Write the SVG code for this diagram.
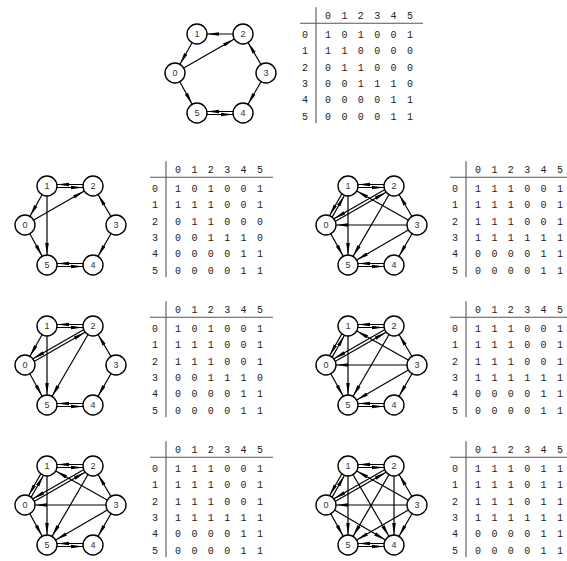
<svg xmlns="http://www.w3.org/2000/svg" width="567" height="561" viewBox="0 0 567 561">
<style>
.n circle{fill:#fff;stroke:#000;stroke-width:1.4}
.n text{font-family:"Liberation Sans",sans-serif;font-size:9px;fill:#333;text-anchor:middle}
.e line{stroke:#000;stroke-width:1.2;marker-end:url(#ah)}
.m text{font-family:"Liberation Mono",monospace;font-size:10px;fill:#222;text-anchor:middle}
.m line{stroke:#555;stroke-width:1.1}
</style>
<defs>
<marker id="ah" markerUnits="userSpaceOnUse" markerWidth="12" markerHeight="5" refX="22" refY="2.5" orient="auto"><path d="M0,0.7 L12,2.5 L0,4.3 Z" fill="#000"/></marker>
</defs>
<rect width="567" height="561" fill="#fff"/>

<!-- Graph 0 (top) -->
<g id="graph0" transform="translate(175,34)">
<g id="edges0" class="e">
<line x1="0" y1="39" x2="68" y2="0"/>
<line x1="0" y1="39" x2="22" y2="79"/>
<line x1="22" y1="0" x2="0" y2="39"/>
<line x1="68" y1="0" x2="22" y2="0"/>
<line x1="91" y1="39" x2="68" y2="0"/>
<line x1="91" y1="39" x2="68" y2="79"/>
<line x1="68" y1="77.5" x2="22" y2="77.5"/>
<line x1="22" y1="80.5" x2="68" y2="80.5"/>
</g>
<g id="g0n0" class="n"><circle cx="0" cy="39" r="10"/><text x="0" y="42.2">0</text></g>
<g id="g0n1" class="n"><circle cx="22" cy="0" r="10"/><text x="22" y="3.2">1</text></g>
<g id="g0n2" class="n"><circle cx="68" cy="0" r="10"/><text x="68" y="3.2">2</text></g>
<g id="g0n3" class="n"><circle cx="91" cy="39" r="10"/><text x="91" y="42.2">3</text></g>
<g id="g0n4" class="n"><circle cx="68" cy="79" r="10"/><text x="68" y="82.2">4</text></g>
<g id="g0n5" class="n"><circle cx="22" cy="79" r="10"/><text x="22" y="82.2">5</text></g>
</g>

<!-- Graph 1 (left row 1) -->
<g id="graph1" transform="translate(25,186)">
<g id="edges1" class="e">
<line x1="0" y1="39" x2="68" y2="0"/>
<line x1="0" y1="39" x2="22" y2="79"/>
<line x1="22" y1="0" x2="0" y2="39"/>
<line x1="22" y1="1.5" x2="68" y2="1.5"/>
<line x1="68" y1="-1.5" x2="22" y2="-1.5"/>
<line x1="22" y1="0" x2="22" y2="79"/>
<line x1="91" y1="39" x2="68" y2="0"/>
<line x1="91" y1="39" x2="68" y2="79"/>
<line x1="68" y1="77.5" x2="22" y2="77.5"/>
<line x1="22" y1="80.5" x2="68" y2="80.5"/>
</g>
<g id="g1n0" class="n"><circle cx="0" cy="39" r="10"/><text x="0" y="42.2">0</text></g>
<g id="g1n1" class="n"><circle cx="22" cy="0" r="10"/><text x="22" y="3.2">1</text></g>
<g id="g1n2" class="n"><circle cx="68" cy="0" r="10"/><text x="68" y="3.2">2</text></g>
<g id="g1n3" class="n"><circle cx="91" cy="39" r="10"/><text x="91" y="42.2">3</text></g>
<g id="g1n4" class="n"><circle cx="68" cy="79" r="10"/><text x="68" y="82.2">4</text></g>
<g id="g1n5" class="n"><circle cx="22" cy="79" r="10"/><text x="22" y="82.2">5</text></g>
</g>

<!-- Graph 2 (left row 2) -->
<g id="graph2" transform="translate(25,326)">
<g id="edges2" class="e">
<line x1="0.75" y1="40.3" x2="68.75" y2="1.3"/>
<line x1="67.25" y1="-1.3" x2="-0.75" y2="37.7"/>
<line x1="0" y1="39" x2="22" y2="79"/>
<line x1="22" y1="0" x2="0" y2="39"/>
<line x1="22" y1="1.5" x2="68" y2="1.5"/>
<line x1="68" y1="-1.5" x2="22" y2="-1.5"/>
<line x1="22" y1="0" x2="22" y2="79"/>
<line x1="68" y1="0" x2="22" y2="79"/>
<line x1="91" y1="39" x2="68" y2="0"/>
<line x1="91" y1="39" x2="68" y2="79"/>
<line x1="68" y1="77.5" x2="22" y2="77.5"/>
<line x1="22" y1="80.5" x2="68" y2="80.5"/>
</g>
<g id="g2n0" class="n"><circle cx="0" cy="39" r="10"/><text x="0" y="42.2">0</text></g>
<g id="g2n1" class="n"><circle cx="22" cy="0" r="10"/><text x="22" y="3.2">1</text></g>
<g id="g2n2" class="n"><circle cx="68" cy="0" r="10"/><text x="68" y="3.2">2</text></g>
<g id="g2n3" class="n"><circle cx="91" cy="39" r="10"/><text x="91" y="42.2">3</text></g>
<g id="g2n4" class="n"><circle cx="68" cy="79" r="10"/><text x="68" y="82.2">4</text></g>
<g id="g2n5" class="n"><circle cx="22" cy="79" r="10"/><text x="22" y="82.2">5</text></g>
</g>

<!-- Graph 3 (left row 3) -->
<g id="graph3" transform="translate(25,466)">
<g id="edges3" class="e">
<line x1="1.31" y1="39.74" x2="23.31" y2="0.74"/>
<line x1="20.69" y1="-0.74" x2="-1.31" y2="38.26"/>
<line x1="0.75" y1="40.3" x2="68.75" y2="1.3"/>
<line x1="67.25" y1="-1.3" x2="-0.75" y2="37.7"/>
<line x1="0" y1="39" x2="22" y2="79"/>
<line x1="22" y1="1.5" x2="68" y2="1.5"/>
<line x1="68" y1="-1.5" x2="22" y2="-1.5"/>
<line x1="22" y1="0" x2="22" y2="79"/>
<line x1="68" y1="0" x2="22" y2="79"/>
<line x1="91" y1="39" x2="0" y2="39"/>
<line x1="91" y1="39" x2="22" y2="0"/>
<line x1="91" y1="39" x2="68" y2="0"/>
<line x1="91" y1="39" x2="68" y2="79"/>
<line x1="91" y1="39" x2="22" y2="79"/>
<line x1="68" y1="77.5" x2="22" y2="77.5"/>
<line x1="22" y1="80.5" x2="68" y2="80.5"/>
</g>
<g id="g3n0" class="n"><circle cx="0" cy="39" r="10"/><text x="0" y="42.2">0</text></g>
<g id="g3n1" class="n"><circle cx="22" cy="0" r="10"/><text x="22" y="3.2">1</text></g>
<g id="g3n2" class="n"><circle cx="68" cy="0" r="10"/><text x="68" y="3.2">2</text></g>
<g id="g3n3" class="n"><circle cx="91" cy="39" r="10"/><text x="91" y="42.2">3</text></g>
<g id="g3n4" class="n"><circle cx="68" cy="79" r="10"/><text x="68" y="82.2">4</text></g>
<g id="g3n5" class="n"><circle cx="22" cy="79" r="10"/><text x="22" y="82.2">5</text></g>
</g>

<!-- Graph 4 (right row 1) -->
<g id="graph4" transform="translate(326,186)">
<g id="edges4" class="e">
<line x1="1.31" y1="39.74" x2="23.31" y2="0.74"/>
<line x1="20.69" y1="-0.74" x2="-1.31" y2="38.26"/>
<line x1="0.75" y1="40.3" x2="68.75" y2="1.3"/>
<line x1="67.25" y1="-1.3" x2="-0.75" y2="37.7"/>
<line x1="0" y1="39" x2="22" y2="79"/>
<line x1="22" y1="1.5" x2="68" y2="1.5"/>
<line x1="68" y1="-1.5" x2="22" y2="-1.5"/>
<line x1="22" y1="0" x2="22" y2="79"/>
<line x1="68" y1="0" x2="22" y2="79"/>
<line x1="91" y1="39" x2="0" y2="39"/>
<line x1="91" y1="39" x2="22" y2="0"/>
<line x1="91" y1="39" x2="68" y2="0"/>
<line x1="91" y1="39" x2="68" y2="79"/>
<line x1="91" y1="39" x2="22" y2="79"/>
<line x1="68" y1="77.5" x2="22" y2="77.5"/>
<line x1="22" y1="80.5" x2="68" y2="80.5"/>
</g>
<g id="g4n0" class="n"><circle cx="0" cy="39" r="10"/><text x="0" y="42.2">0</text></g>
<g id="g4n1" class="n"><circle cx="22" cy="0" r="10"/><text x="22" y="3.2">1</text></g>
<g id="g4n2" class="n"><circle cx="68" cy="0" r="10"/><text x="68" y="3.2">2</text></g>
<g id="g4n3" class="n"><circle cx="91" cy="39" r="10"/><text x="91" y="42.2">3</text></g>
<g id="g4n4" class="n"><circle cx="68" cy="79" r="10"/><text x="68" y="82.2">4</text></g>
<g id="g4n5" class="n"><circle cx="22" cy="79" r="10"/><text x="22" y="82.2">5</text></g>
</g>

<!-- Graph 5 (right row 2) -->
<g id="graph5" transform="translate(326,326)">
<g id="edges5" class="e">
<line x1="1.31" y1="39.74" x2="23.31" y2="0.74"/>
<line x1="20.69" y1="-0.74" x2="-1.31" y2="38.26"/>
<line x1="0.75" y1="40.3" x2="68.75" y2="1.3"/>
<line x1="67.25" y1="-1.3" x2="-0.75" y2="37.7"/>
<line x1="0" y1="39" x2="22" y2="79"/>
<line x1="22" y1="1.5" x2="68" y2="1.5"/>
<line x1="68" y1="-1.5" x2="22" y2="-1.5"/>
<line x1="22" y1="0" x2="22" y2="79"/>
<line x1="68" y1="0" x2="22" y2="79"/>
<line x1="91" y1="39" x2="0" y2="39"/>
<line x1="91" y1="39" x2="22" y2="0"/>
<line x1="91" y1="39" x2="68" y2="0"/>
<line x1="91" y1="39" x2="68" y2="79"/>
<line x1="91" y1="39" x2="22" y2="79"/>
<line x1="68" y1="77.5" x2="22" y2="77.5"/>
<line x1="22" y1="80.5" x2="68" y2="80.5"/>
</g>
<g id="g5n0" class="n"><circle cx="0" cy="39" r="10"/><text x="0" y="42.2">0</text></g>
<g id="g5n1" class="n"><circle cx="22" cy="0" r="10"/><text x="22" y="3.2">1</text></g>
<g id="g5n2" class="n"><circle cx="68" cy="0" r="10"/><text x="68" y="3.2">2</text></g>
<g id="g5n3" class="n"><circle cx="91" cy="39" r="10"/><text x="91" y="42.2">3</text></g>
<g id="g5n4" class="n"><circle cx="68" cy="79" r="10"/><text x="68" y="82.2">4</text></g>
<g id="g5n5" class="n"><circle cx="22" cy="79" r="10"/><text x="22" y="82.2">5</text></g>
</g>

<!-- Graph 6 (right row 3) -->
<g id="graph6" transform="translate(326,466)">
<g id="edges6" class="e">
<line x1="1.31" y1="39.74" x2="23.31" y2="0.74"/>
<line x1="20.69" y1="-0.74" x2="-1.31" y2="38.26"/>
<line x1="0.75" y1="40.3" x2="68.75" y2="1.3"/>
<line x1="67.25" y1="-1.3" x2="-0.75" y2="37.7"/>
<line x1="0" y1="39" x2="22" y2="79"/>
<line x1="0" y1="39" x2="68" y2="79"/>
<line x1="22" y1="1.5" x2="68" y2="1.5"/>
<line x1="68" y1="-1.5" x2="22" y2="-1.5"/>
<line x1="22" y1="0" x2="22" y2="79"/>
<line x1="22" y1="0" x2="68" y2="79"/>
<line x1="68" y1="0" x2="22" y2="79"/>
<line x1="68" y1="0" x2="68" y2="79"/>
<line x1="91" y1="39" x2="0" y2="39"/>
<line x1="91" y1="39" x2="22" y2="0"/>
<line x1="91" y1="39" x2="68" y2="0"/>
<line x1="91" y1="39" x2="68" y2="79"/>
<line x1="91" y1="39" x2="22" y2="79"/>
<line x1="68" y1="77.5" x2="22" y2="77.5"/>
<line x1="22" y1="80.5" x2="68" y2="80.5"/>
</g>
<g id="g6n0" class="n"><circle cx="0" cy="39" r="10"/><text x="0" y="42.2">0</text></g>
<g id="g6n1" class="n"><circle cx="22" cy="0" r="10"/><text x="22" y="3.2">1</text></g>
<g id="g6n2" class="n"><circle cx="68" cy="0" r="10"/><text x="68" y="3.2">2</text></g>
<g id="g6n3" class="n"><circle cx="91" cy="39" r="10"/><text x="91" y="42.2">3</text></g>
<g id="g6n4" class="n"><circle cx="68" cy="79" r="10"/><text x="68" y="82.2">4</text></g>
<g id="g6n5" class="n"><circle cx="22" cy="79" r="10"/><text x="22" y="82.2">5</text></g>
</g>

<!-- Matrices -->
<g id="matrix0" class="m" transform="translate(305,34.3)">
<line x1="-5" y1="-11" x2="118" y2="-11"/><line x1="11" y1="-27" x2="11" y2="89"/>
<text x="23 39.4 55.8 72.2 88.6 105" y="-15.5">012345</text>
<text x="0 0 0 0 0 0" y="3.5 19.9 36.3 52.7 69.1 85.5">012345</text>
<text x="23 39.4 55.8 72.2 88.6 105" y="3.5">101001</text>
<text x="23 39.4 55.8 72.2 88.6 105" y="19.9">110000</text>
<text x="23 39.4 55.8 72.2 88.6 105" y="36.3">011000</text>
<text x="23 39.4 55.8 72.2 88.6 105" y="52.7">001110</text>
<text x="23 39.4 55.8 72.2 88.6 105" y="69.1">000011</text>
<text x="23 39.4 55.8 72.2 88.6 105" y="85.5">000011</text>
</g>

<g id="matrix1" class="m" transform="translate(155,188.3)">
<line x1="-5" y1="-11" x2="118" y2="-11"/><line x1="11" y1="-27" x2="11" y2="89"/>
<text x="23 39.4 55.8 72.2 88.6 105" y="-15.5">012345</text>
<text x="0 0 0 0 0 0" y="3.5 19.9 36.3 52.7 69.1 85.5">012345</text>
<text x="23 39.4 55.8 72.2 88.6 105" y="3.5">101001</text>
<text x="23 39.4 55.8 72.2 88.6 105" y="19.9">111001</text>
<text x="23 39.4 55.8 72.2 88.6 105" y="36.3">011000</text>
<text x="23 39.4 55.8 72.2 88.6 105" y="52.7">001110</text>
<text x="23 39.4 55.8 72.2 88.6 105" y="69.1">000011</text>
<text x="23 39.4 55.8 72.2 88.6 105" y="85.5">000011</text>
</g>

<g id="matrix2" class="m" transform="translate(155,328.3)">
<line x1="-5" y1="-11" x2="118" y2="-11"/><line x1="11" y1="-27" x2="11" y2="89"/>
<text x="23 39.4 55.8 72.2 88.6 105" y="-15.5">012345</text>
<text x="0 0 0 0 0 0" y="3.5 19.9 36.3 52.7 69.1 85.5">012345</text>
<text x="23 39.4 55.8 72.2 88.6 105" y="3.5">101001</text>
<text x="23 39.4 55.8 72.2 88.6 105" y="19.9">111001</text>
<text x="23 39.4 55.8 72.2 88.6 105" y="36.3">111001</text>
<text x="23 39.4 55.8 72.2 88.6 105" y="52.7">001110</text>
<text x="23 39.4 55.8 72.2 88.6 105" y="69.1">000011</text>
<text x="23 39.4 55.8 72.2 88.6 105" y="85.5">000011</text>
</g>

<g id="matrix3" class="m" transform="translate(155,468.3)">
<line x1="-5" y1="-11" x2="118" y2="-11"/><line x1="11" y1="-27" x2="11" y2="89"/>
<text x="23 39.4 55.8 72.2 88.6 105" y="-15.5">012345</text>
<text x="0 0 0 0 0 0" y="3.5 19.9 36.3 52.7 69.1 85.5">012345</text>
<text x="23 39.4 55.8 72.2 88.6 105" y="3.5">111001</text>
<text x="23 39.4 55.8 72.2 88.6 105" y="19.9">111001</text>
<text x="23 39.4 55.8 72.2 88.6 105" y="36.3">111001</text>
<text x="23 39.4 55.8 72.2 88.6 105" y="52.7">111111</text>
<text x="23 39.4 55.8 72.2 88.6 105" y="69.1">000011</text>
<text x="23 39.4 55.8 72.2 88.6 105" y="85.5">000011</text>
</g>

<g id="matrix4" class="m" transform="translate(455,188.3)">
<line x1="-5" y1="-11" x2="118" y2="-11"/><line x1="11" y1="-27" x2="11" y2="89"/>
<text x="23 39.4 55.8 72.2 88.6 105" y="-15.5">012345</text>
<text x="0 0 0 0 0 0" y="3.5 19.9 36.3 52.7 69.1 85.5">012345</text>
<text x="23 39.4 55.8 72.2 88.6 105" y="3.5">111001</text>
<text x="23 39.4 55.8 72.2 88.6 105" y="19.9">111001</text>
<text x="23 39.4 55.8 72.2 88.6 105" y="36.3">111001</text>
<text x="23 39.4 55.8 72.2 88.6 105" y="52.7">111111</text>
<text x="23 39.4 55.8 72.2 88.6 105" y="69.1">000011</text>
<text x="23 39.4 55.8 72.2 88.6 105" y="85.5">000011</text>
</g>

<g id="matrix5" class="m" transform="translate(455,328.3)">
<line x1="-5" y1="-11" x2="118" y2="-11"/><line x1="11" y1="-27" x2="11" y2="89"/>
<text x="23 39.4 55.8 72.2 88.6 105" y="-15.5">012345</text>
<text x="0 0 0 0 0 0" y="3.5 19.9 36.3 52.7 69.1 85.5">012345</text>
<text x="23 39.4 55.8 72.2 88.6 105" y="3.5">111001</text>
<text x="23 39.4 55.8 72.2 88.6 105" y="19.9">111001</text>
<text x="23 39.4 55.8 72.2 88.6 105" y="36.3">111001</text>
<text x="23 39.4 55.8 72.2 88.6 105" y="52.7">111111</text>
<text x="23 39.4 55.8 72.2 88.6 105" y="69.1">000011</text>
<text x="23 39.4 55.8 72.2 88.6 105" y="85.5">000011</text>
</g>

<g id="matrix6" class="m" transform="translate(455,468.3)">
<line x1="-5" y1="-11" x2="118" y2="-11"/><line x1="11" y1="-27" x2="11" y2="89"/>
<text x="23 39.4 55.8 72.2 88.6 105" y="-15.5">012345</text>
<text x="0 0 0 0 0 0" y="3.5 19.9 36.3 52.7 69.1 85.5">012345</text>
<text x="23 39.4 55.8 72.2 88.6 105" y="3.5">111011</text>
<text x="23 39.4 55.8 72.2 88.6 105" y="19.9">111011</text>
<text x="23 39.4 55.8 72.2 88.6 105" y="36.3">111011</text>
<text x="23 39.4 55.8 72.2 88.6 105" y="52.7">111111</text>
<text x="23 39.4 55.8 72.2 88.6 105" y="69.1">000011</text>
<text x="23 39.4 55.8 72.2 88.6 105" y="85.5">000011</text>
</g>
</svg>
